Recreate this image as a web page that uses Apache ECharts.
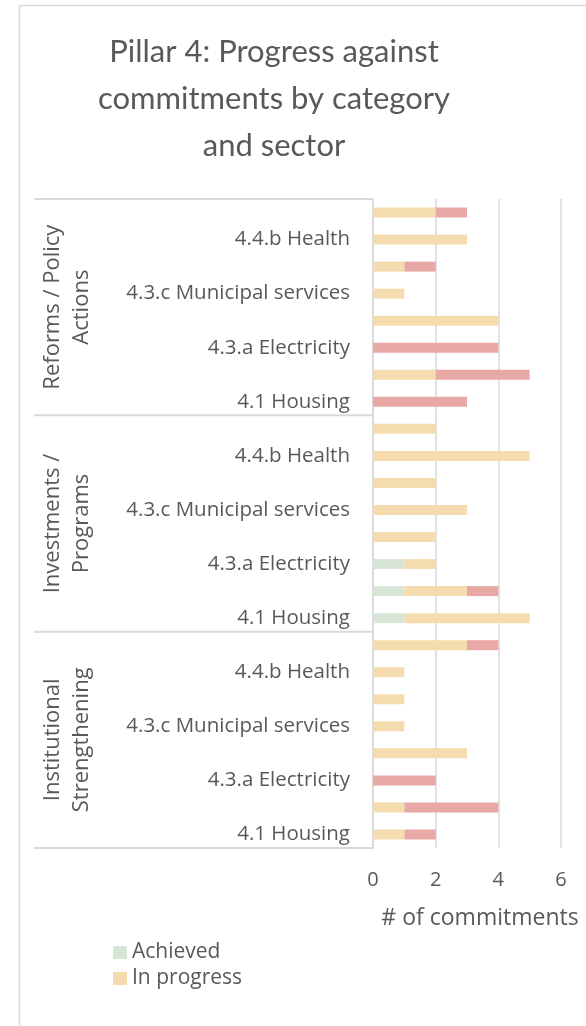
<!DOCTYPE html>
<html>
<head>
<meta charset="utf-8">
<script src="https://cdn.jsdelivr.net/npm/echarts@6/dist/echarts.min.js"></script>
<style>
  html, body { margin: 0; padding: 0; background: #fff; }
  #main { width: 586px; height: 1026px; }
</style>
</head>
<body>
<div id="main"></div>
<script>
// rows run bottom -> top, same as the category axis
var groups = ['Institutional\nStrengthening', 'Investments /\nPrograms', 'Reforms / Policy\nActions'];
var sectors = ['4.1 Housing', '4.2', '4.3.a Electricity', '4.3.b', '4.3.c Municipal services', '4.4.a', '4.4.b Health', '4.5'];

var achieved   = [0, 0, 0, 0, 0, 0, 0, 0,  1, 1, 1, 0, 0, 0, 0, 0,  0, 0, 0, 0, 0, 0, 0, 0];
var inProgress = [1, 1, 0, 3, 1, 1, 1, 3,  4, 2, 1, 2, 3, 2, 5, 2,  0, 2, 0, 4, 1, 1, 3, 2];
var delayed    = [1, 3, 2, 0, 0, 0, 0, 1,  0, 1, 0, 0, 0, 0, 0, 0,  3, 3, 4, 0, 0, 1, 0, 1];

var xTicks = [0, 2, 4, 6];

var categories = [];
groups.forEach(function (g, gi) {
    sectors.forEach(function (s) {
        categories.push(gi + '|' + s);
    });
});

var textColor = '#595959';
var lineColor = '#d9d9d9';
var titleFont = 'Lato, sans-serif';
var labelFont = '"Open Sans", sans-serif';

var myChart = echarts.init(document.getElementById('main'));

var option = {
    animation: false,
    textStyle: { fontFamily: labelFont },
    title: {
        text: 'Pillar 4: Progress against\ncommitments by category\nand sector',
        left: 269,
        top: 23,
        textAlign: 'center',
        textStyle: {
            fontFamily: titleFont,
            fontSize: 31,
            fontWeight: 'normal',
            color: textColor,
            lineHeight: 47
        }
    },
    legend: {
        data: ['Achieved', 'In progress'],
        orient: 'vertical',
        left: 108,
        top: 937,
        itemWidth: 14,
        itemHeight: 13,
        itemGap: 5,
        icon: 'rect',
        textStyle: { fontFamily: labelFont, fontSize: 21, color: textColor }
    },
    grid: {
        left: 373,
        right: 25,
        top: 199,
        bottom: 178,
        containLabel: false
    },
    xAxis: {
        type: 'value',
        min: xTicks[0],
        max: xTicks[xTicks.length - 1],
        interval: 2,
        name: '# of commitments',
        nameLocation: 'middle',
        nameGap: 59,
        nameTextStyle: { fontFamily: labelFont, fontSize: 23, color: textColor, padding: [0, 0, 0, 26] },
        axisLine: { show: false },
        axisTick: { show: false },
        axisLabel: { fontFamily: labelFont, fontSize: 20, color: textColor, margin: 22 },
        splitLine: { lineStyle: { color: lineColor, width: 1.5 } }
    },
    yAxis: {
        type: 'category',
        data: categories,
        axisLine: { show: true, lineStyle: { color: lineColor, width: 1.5 } },
        axisTick: { show: false },
        axisLabel: {
            interval: 1,
            fontFamily: labelFont,
            fontSize: 20.5,
            color: textColor,
            margin: 23,
            formatter: function (v) { return v.split('|')[1]; }
        }
    },
    series: [
        {
            name: 'Achieved', type: 'bar', stack: 'total', barWidth: 10,
            itemStyle: { color: '#d6e5d6' }, data: achieved
        },
        {
            name: 'In progress', type: 'bar', stack: 'total', barWidth: 10,
            itemStyle: { color: '#f5dcae' }, data: inProgress
        },
        {
            name: 'Delayed', type: 'bar', stack: 'total', barWidth: 10,
            itemStyle: { color: '#e8a8a6' }, data: delayed
        }
    ]
};

myChart.setOption(option);

// multi-level axis decorations from the axis scale
function drawDecor() {
    var c0 = myChart.convertToPixel({ yAxisIndex: 0 }, 0);
    var c1 = myChart.convertToPixel({ yAxisIndex: 0 }, 1);
    var band = Math.abs(c0 - c1);
    var axisX = myChart.convertToPixel({ xAxisIndex: 0 }, 0);
    var elements = [];

    elements.push({
        type: 'rect', silent: true,
        shape: { x: 19.5, y: 5.5, width: 700, height: 1100 },
        style: { fill: null, stroke: lineColor, lineWidth: 1.5 }
    });

    for (var g = 0; g <= groups.length; g++) {
        var y;
        if (g < groups.length) {
            y = myChart.convertToPixel({ yAxisIndex: 0 }, g * sectors.length) + band / 2;
        } else {
            y = myChart.convertToPixel({ yAxisIndex: 0 }, categories.length - 1) - band / 2;
        }
        elements.push({
            type: 'line', silent: true,
            shape: { x1: 34, y1: y, x2: axisX, y2: y },
            style: { stroke: lineColor, lineWidth: 2 }
        });
    }

    groups.forEach(function (name, gi) {
        var yA = myChart.convertToPixel({ yAxisIndex: 0 }, gi * sectors.length);
        var yB = myChart.convertToPixel({ yAxisIndex: 0 }, gi * sectors.length + sectors.length - 1);
        elements.push({
            type: 'text', silent: true,
            x: 67, y: (yA + yB) / 2,
            rotation: Math.PI / 2,
            style: {
                text: name,
                align: 'center',
                verticalAlign: 'middle',
                fontFamily: labelFont,
                fontSize: 22,
                lineHeight: 29,
                fill: textColor
            }
        });
    });

    myChart.setOption({ graphic: { elements: elements } });
}

drawDecor();
</script>
</body>
</html>
